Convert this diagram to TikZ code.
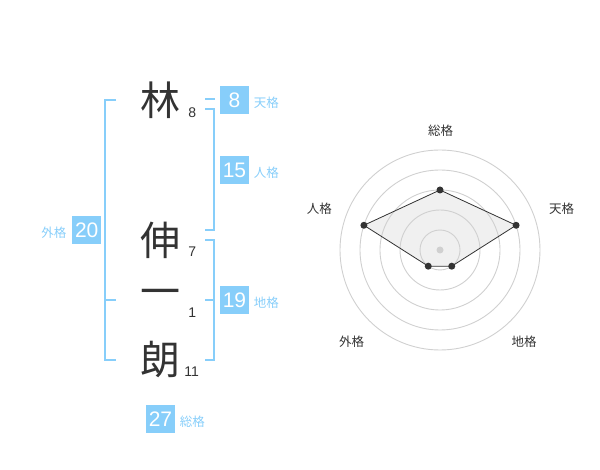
\documentclass[tikz,border=0pt]{standalone}
\usepackage{fontspec}
\setmainfont{Liberation Sans}
\newfontfamily\jpfont{Noto Sans CJK JP}
\definecolor{kakublue}{RGB}{135, 206, 250}
\definecolor{inkgray}{RGB}{51, 51, 51}
\definecolor{ringgray}{RGB}{208, 208, 208}
\definecolor{areagray}{RGB}{240, 240, 240}
\usetikzlibrary{positioning}

\begin{document}
\begin{tikzpicture}[x=1pt, y=-1pt,
  kanji/.style={font=\jpfont\fontsize{40}{40}\selectfont, text=inkgray, inner sep=0pt},
  strokes/.style={font=\fontsize{14}{14}\selectfont, text=inkgray, inner sep=0pt},
  numbox/.style={fill=kakublue, text=white, minimum width=29pt, minimum height=28pt, inner sep=0pt, font=\fontsize{21}{21}\selectfont},
  kaku/.style={font=\jpfont\fontsize{12.5}{12.5}\selectfont, text=kakublue, inner sep=0pt},
  bracket/.style={draw=kakublue, line width=2pt},
  ring/.style={draw=ringgray, line width=0.9pt},
  axislabel/.style={font=\jpfont\fontsize{12.5}{12.5}\selectfont, text=inkgray, inner sep=0pt},
  dot/.style={circle, fill=inkgray, inner sep=0pt, minimum size=7pt}
]
  \useasboundingbox (0,0) rectangle (600,470);

  % Name characters
  \node[kanji] (c1) at (160, 100) {林};
  \node[kanji] (c2) at (160, 240) {伸};
  \node[kanji] (c3) at (160, 298) {一};
  \node[kanji] (c4) at (160, 360) {朗};

  % Stroke counts
  \node[strokes] (s1) at (192.3, 112.5) {8};
  \node[strokes] (s2) at (192.3, 252) {7};
  \node[strokes] (s3) at (192.3, 312.5) {1};
  \node[strokes] (s4) at (191.7, 372) {11};

  % Brackets
  \draw[bracket] (116, 100) -- (105, 100) -- (105, 360) -- (116, 360);
  \draw[bracket] (105, 300) -- (116, 300);
  \draw[bracket] (205, 99) -- (215, 99);
  \draw[bracket] (205, 109) -- (214, 109) -- (214, 230) -- (205, 230);
  \draw[bracket] (205, 240) -- (214, 240) -- (214, 360) -- (205, 360);
  \draw[bracket] (205, 300) -- (214, 300);

  % Kaku boxes
  \node[numbox] (ten) at (234.5, 100) {8};
  \node[numbox] (jin) at (234.5, 170) {15};
  \node[numbox] (gai) at (86.7, 230) {20};
  \node[numbox] (chi) at (234.5, 300) {19};
  \node[numbox] (sou) at (160.5, 419) {27};

  \node[kaku, right=4.5pt of ten, yshift=-3pt] (tenl) {天格};
  \node[kaku, right=4.5pt of jin, yshift=-3pt] (jinl) {人格};
  \node[kaku, left=5.5pt of gai, yshift=-3pt] (gail) {外格};
  \node[kaku, right=4.5pt of chi, yshift=-3pt] (chil) {地格};
  \node[kaku, right=4.5pt of sou, yshift=-3pt] (soul) {総格};

  % Radar chart
  \begin{scope}[shift={(440, 250)}]
    \coordinate (rc) at (0, 0);
    \coordinate (psou) at (-90:60);
    \coordinate (pten) at (-18:80);
    \coordinate (pchi) at (54:20);
    \coordinate (pgai) at (126:20);
    \coordinate (pjin) at (-162:80);

    \fill[areagray] (psou) -- (pten) -- (pchi) -- (pgai) -- (pjin) -- cycle;

    \draw[ring] (rc) circle (20);
    \draw[ring] (rc) circle (40);
    \draw[ring] (rc) circle (60);
    \draw[ring] (rc) circle (80);
    \draw[ring] (rc) circle (100);

    \draw[inkgray, line width=0.8pt] (psou) -- (pten) -- (pchi) -- (pgai) -- (pjin) -- cycle;

    \node[dot, fill=ringgray] (dc) at (rc) {};
    \node[dot] (dsou) at (psou) {};
    \node[dot] (dten) at (pten) {};
    \node[dot] (dchi) at (pchi) {};
    \node[dot] (dgai) at (pgai) {};
    \node[dot] (djin) at (pjin) {};
  \end{scope}

  \node[axislabel] (asou) at (440.7, 130.7) {総格};
  \node[axislabel] (aten) at (561.7, 209) {天格};
  \node[axislabel] (ajin) at (319.3, 209) {人格};
  \node[axislabel] (agai) at (351.7, 342) {外格};
  \node[axislabel] (achi) at (524, 342) {地格};
\end{tikzpicture}
\end{document}
